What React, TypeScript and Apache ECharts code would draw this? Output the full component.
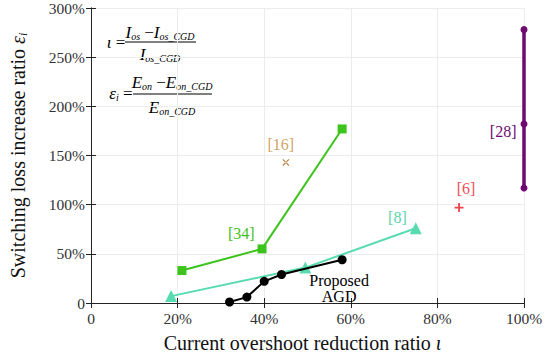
import React, { useEffect, useRef } from "react";
import * as echarts from "echarts";

// Current overshoot reduction ratio (%) vs switching loss increase ratio (%)
const agdX = [32, 36, 40, 44, 58];
const agdY = [1, 6, 22, 29, 44];
const ref34X = [21, 39.5, 58];
const ref34Y = [33, 55, 177];
const ref8X = [18.5, 49.5, 75];
const ref8Y = [7, 36, 76];
const ref16 = [45, 143];
const ref6 = [85, 97];
const ref28X = [100, 100, 100];
const ref28Y = [117, 182, 278];

const FONT = "Liberation Serif";

const pct = (v: number) => (v === 0 ? "0" : `${v}%`);

const crossPath = "path://M1.2,0L0,1.2L8.8,10L10,8.8ZM8.8,0L10,1.2L1.2,10L0,8.8Z";
const plusPath = "path://M4,0H6V4H10V6H6V10H4V6H0V4H4Z";

export default function App() {
  const ref = useRef<HTMLDivElement>(null);

  useEffect(() => {
    if (!ref.current) return;
    document.body.style.margin = "0";
    const chart = echarts.init(ref.current, undefined, { renderer: "svg" });

    const zip = (xs: number[], ys: number[]) => xs.map((x, i) => [x, ys[i]]);

    const sub = { fontFamily: FONT, fontStyle: "italic", fontSize: 10, color: "#000", verticalAlign: "bottom", lineHeight: 13 } as any;
    const main = { fontFamily: FONT, fontStyle: "italic", fontSize: 17, color: "#000", lineHeight: 19 } as any;
    const rich = { m: main, s: sub, n: { ...main, fontStyle: "normal" } };

    const ftext = (x: number, y: number, text: string, align = "center") => ({
      type: "text",
      x,
      y,
      style: { text, rich, align, verticalAlign: "middle", fontFamily: FONT, fontSize: 17 },
    });

    const axisCommon = {
      min: 0,
      axisLine: { show: true, lineStyle: { color: "#222", width: 1 } },
      axisTick: { show: true, inside: true, length: 5, lineStyle: { color: "#222" } },
    };

    const tickLabel = { formatter: pct, fontFamily: FONT, fontSize: 15.5, color: "#333" };

    const lbl = (color: string) => ({ fontFamily: FONT, fontSize: 16, color });

    chart.setOption({
      animation: false,
      backgroundColor: "#fff",
      textStyle: { fontFamily: FONT },
      grid: { left: 86, right: 32, top: 8, bottom: 54 },
      xAxis: [
        {
          ...axisCommon,
          type: "value",
          max: 100,
          interval: 20,
          axisLabel: { ...tickLabel, margin: 7 },
          splitLine: { show: true, lineStyle: { color: "#ececec" } },
          name: "{n|Current overshoot reduction ratio }{m|ι}",
          nameLocation: "middle",
          nameGap: 30,
          nameTextStyle: {
            padding: [0, 10, 0, 0],
            rich: {
              n: { fontFamily: FONT, fontSize: 20, color: "#111" },
              m: { fontFamily: FONT, fontSize: 20, fontStyle: "italic", color: "#111" },
            },
          },
        },
        {
          ...axisCommon,
          type: "value",
          position: "top",
          max: 100,
          interval: 20,
          axisLabel: { show: false },
          splitLine: { show: false },
        },
      ],
      yAxis: [
        {
          ...axisCommon,
          type: "value",
          max: 300,
          interval: 50,
          axisLabel: { ...tickLabel, margin: 6 },
          splitLine: { show: true, lineStyle: { color: "#ececec" } },
          name: "{n|Switching loss increase ratio }{m|ε}{s|i}",
          nameLocation: "middle",
          nameGap: 62,
          nameTextStyle: {
            rich: {
              n: { fontFamily: FONT, fontSize: 20, color: "#111", lineHeight: 22 },
              m: { fontFamily: FONT, fontSize: 20, fontStyle: "italic", color: "#111", lineHeight: 22 },
              s: { fontFamily: FONT, fontSize: 12, fontStyle: "italic", color: "#111", verticalAlign: "bottom", lineHeight: 15 },
            },
          },
        },
        {
          ...axisCommon,
          type: "value",
          position: "right",
          max: 300,
          interval: 50,
          axisLabel: { show: false },
          splitLine: { show: false },
        },
      ],
      series: [
        {
          name: "[34]",
          type: "line",
          data: zip(ref34X, ref34Y).map((d, i) =>
            i === 1
              ? {
                  value: d,
                  label: { show: true, formatter: "[34]", position: "left", offset: [2, -15], ...lbl("#3fbf20") },
                }
              : d
          ),
          symbol: "rect",
          symbolSize: 9,
          lineStyle: { color: "#3cc41c", width: 2 },
          itemStyle: { color: "#3cc41c" },
          z: 3,
        },
        {
          name: "[8]",
          type: "line",
          data: zip(ref8X, ref8Y).map((d, i) =>
            i === 2
              ? {
                  value: d,
                  label: { show: true, formatter: "[8]", position: "left", offset: [2, -11], ...lbl("#5ad6ab") },
                }
              : d
          ),
          symbol: "triangle",
          symbolSize: 12,
          lineStyle: { color: "#58dbb0", width: 2 },
          itemStyle: { color: "#58dbb0" },
          z: 4,
        },
        {
          name: "Proposed AGD",
          type: "line",
          data: zip(agdX, agdY).map((d, i) =>
            i === agdX.length - 1
              ? {
                  value: d,
                  label: {
                    show: true,
                    formatter: "Proposed\nAGD",
                    position: "bottom",
                    offset: [-3, 3],
                    align: "center",
                    lineHeight: 16,
                    ...lbl("#000"),
                  },
                }
              : d
          ),
          symbol: "circle",
          symbolSize: 9,
          lineStyle: { color: "#000", width: 2 },
          itemStyle: { color: "#000" },
          z: 5,
        },
        {
          name: "[16]",
          type: "scatter",
          label: { show: true, formatter: "[16]", position: "top", offset: [-5, -1], ...lbl("#c48a3a") },
          data: [ref16],
          symbol: crossPath,
          symbolSize: 7,
          itemStyle: { color: "#a8681a" },
        },
        {
          name: "[6]",
          type: "scatter",
          label: { show: true, formatter: "[6]", position: "top", offset: [7, -2], ...lbl("#e8141e") },
          data: [ref6],
          symbol: plusPath,
          symbolSize: 9,
          itemStyle: { color: "#e8141e" },
        },
        {
          name: "[28]",
          type: "line",
          data: zip(ref28X, ref28Y).map((d, i) =>
            i === 1
              ? {
                  value: d,
                  label: { show: true, formatter: "[28]", position: "left", offset: [1, 7], ...lbl("#6e0a72") },
                }
              : d
          ),
          symbol: "circle",
          symbolSize: 7,
          lineStyle: { color: "#6e0a72", width: 3.5 },
          itemStyle: { color: "#6e0a72" },
          clip: false,
          z: 6,
        },
      ],
      graphic: [
        // ι = (I_os − I_os_CGD) / I_os_CGD
        ftext(116, 42, "{m|ι}{n| =}", "center"),
        ftext(160, 32, "{m|I}{s|os}{n| −}{m|I}{s|os_CGD}"),
        { type: "line", shape: { x1: 125, y1: 42, x2: 196, y2: 42 }, style: { stroke: "#000", lineWidth: 1 } },
        ftext(160, 54, "{m|I}{s|os_CGD}"),
        // ε_i = (E_on − E_on_CGD) / E_on_CGD
        ftext(121, 93, "{m|ε}{s|i}{n| =}", "center"),
        ftext(172, 82, "{m|E}{s|on}{n| −}{m|E}{s|on_CGD}"),
        { type: "line", shape: { x1: 133, y1: 94, x2: 212, y2: 94 }, style: { stroke: "#000", lineWidth: 1 } },
        ftext(172, 107, "{m|E}{s|on_CGD}"),
      ],
    });

    return () => chart.dispose();
  }, []);

  return <div ref={ref} style={{ width: 556, height: 358 }} />;
}
